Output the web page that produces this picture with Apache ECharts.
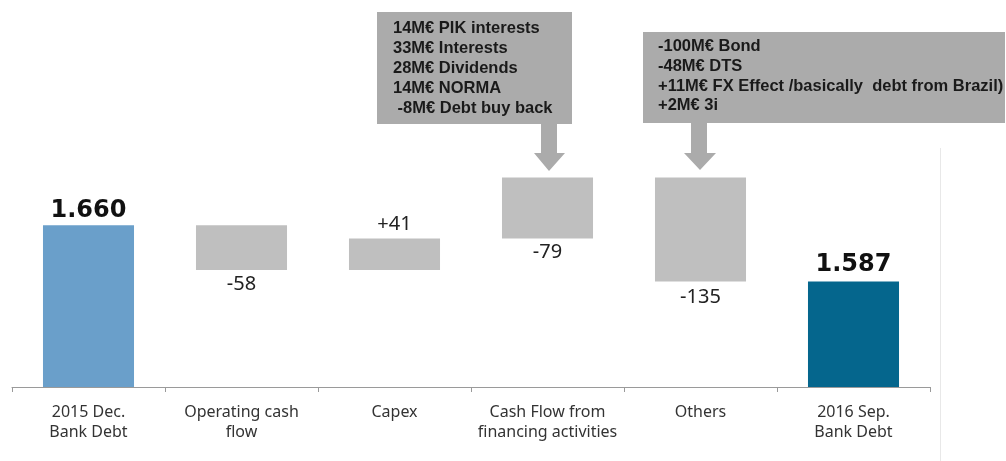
<!DOCTYPE html>
<html>
<head>
<meta charset="utf-8">
<script src="https://cdn.jsdelivr.net/npm/echarts@6/dist/echarts.min.js"></script>
<style>
  html, body { margin: 0; padding: 0; background: #ffffff; }
  #chart { width: 1006px; height: 461px; }
</style>
</head>
<body>
<div id="chart"></div>
<script>
// ---- Data ----
const categories = ['2015 Dec.\nBank Debt', 'Operating cash\nflow', 'Capex', 'Cash Flow from\nfinancing activities', 'Others', '2016 Sep.\nBank Debt'];
const startValue = 1660;
const endValue = 1587;
const debtSteps = [-58, 41, 79, -135];          // change of debt per step (M€)
const valueLabels = ['1.660', '-58', '+41', '-79', '-135', '1.587'];
const financingNotes = ['14M€ PIK interests', '33M€ Interests', '28M€ Dividends', '14M€ NORMA', ' -8M€ Debt buy back'];
const othersNotes = ['-100M€ Bond', '-48M€ DTS', '+11M€ FX Effect /basically  debt from Brazil)', '+2M€ 3i'];
const yMin = 1450, yMax = 1800;

// ---- Build waterfall (base + visible) ----
const baseData = [0];
const barData = [startValue];
let running = startValue;
debtSteps.forEach(function (d) {
  const next = running + d;
  baseData.push(Math.min(running, next));
  barData.push(Math.abs(d));
  running = next;
});
baseData.push(0);
barData.push(endValue);

const colors = ['#6a9fca', '#bfbfbf', '#bfbfbf', '#bfbfbf', '#bfbfbf', '#05668d'];

const items = barData.map(function (v, i) {
  const isTotal = (i === 0 || i === barData.length - 1);
  const below = valueLabels[i].charAt(0) === '-';
  return {
    value: v,
    itemStyle: { color: colors[i] },
    label: isTotal ? {
      position: 'top', distance: i === 0 ? 3 : 5,
      fontFamily: 'DejaVu Sans', fontWeight: 'bold', fontSize: 24, color: '#111111'
    } : {
      position: below ? 'bottom' : 'top', distance: i === 4 ? 6 : 4,
      fontFamily: 'Noto Sans', fontSize: 20, color: '#222222'
    }
  };
});

const chart = echarts.init(document.getElementById('chart'), null, { renderer: 'canvas' });
const boxColor = '#ababab';
chart.setOption({
  animation: false,
  backgroundColor: '#ffffff',
  grid: { left: 12, right: 76, top: 117.5, bottom: 74, containLabel: false },
  xAxis: {
    type: 'category',
    data: categories,
    axisLine: { lineStyle: { color: '#9a9a9a', width: 1 } },
    axisTick: { show: true, length: 5, alignWithLabel: false, lineStyle: { color: '#9a9a9a' } },
    axisLabel: { margin: 15, fontFamily: 'Noto Sans', fontSize: 16, lineHeight: 20, color: '#333333', interval: 0 }
  },
  yAxis: {
    type: 'value', min: yMin, max: yMax,
    show: false, splitLine: { show: false }
  },
  series: [
    {
      type: 'bar', stack: 'w', data: baseData, barWidth: '59.5%',
      itemStyle: { color: 'transparent' }, silent: true, label: { show: false }
    },
    {
      type: 'bar', stack: 'w', data: items, barWidth: '59.5%', clip: true,
      label: {
        show: true,
        formatter: function (p) { return valueLabels[p.dataIndex]; }
      }
    }
  ],
  graphic: [
    { type: 'line', shape: { x1: 940.5, y1: 148, x2: 940.5, y2: 461 }, style: { stroke: '#e8e8e8', lineWidth: 1 } },
    { type: 'rect', shape: { x: 377, y: 12, width: 195, height: 112 }, style: { fill: boxColor } },
    { type: 'text', x: 393, y: 18, style: { text: financingNotes.join('\n'), font: 'bold 16.5px "Liberation Sans"', lineHeight: 20, fill: '#1a1a1a', verticalAlign: 'top' } },
    { type: 'polygon', shape: { points: [[541, 124], [557, 124], [557, 153], [565, 153], [549, 171], [534, 153], [541, 153]] }, style: { fill: boxColor } },
    { type: 'rect', shape: { x: 643, y: 32, width: 362, height: 91 }, style: { fill: boxColor } },
    { type: 'text', x: 658, y: 37, style: { text: othersNotes.join('\n'), font: 'bold 16.5px "Liberation Sans"', lineHeight: 19.7, fill: '#1a1a1a', verticalAlign: 'top' } },
    { type: 'polygon', shape: { points: [[691, 123], [707, 123], [707, 153], [716, 153], [700, 170], [684, 153], [691, 153]] }, style: { fill: boxColor } }
  ]
});
</script>
</body>
</html>
